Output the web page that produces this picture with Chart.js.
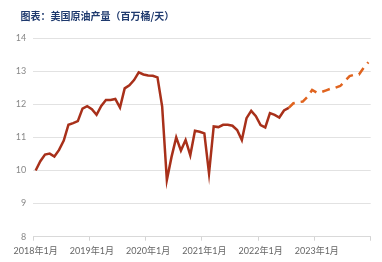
<!DOCTYPE html>
<html>
<head>
<meta charset="utf-8">
<script src="https://cdn.jsdelivr.net/npm/chart.js@4"></script>
<style>
html,body{margin:0;padding:0;background:#fff;}
canvas{display:block;}
</style>
</head>
<body>
<canvas id="c" width="382" height="262"></canvas>
<script>
const titleText = '图表：美国原油产量（百万桶/天）';
const years = [2018, 2019, 2020, 2021, 2022, 2023];
const monthNames = ['1月','2月','3月','4月','5月','6月','7月','8月','9月','10月','11月','12月'];
const yTicks = [8, 9, 10, 11, 12, 13, 14];

// Actual monthly production, 2018-01 .. 2022-07 (million barrels/day)
const actual2018 = [10.00, 10.28, 10.48, 10.51, 10.42, 10.62, 10.90, 11.38, 11.43, 11.49, 11.87, 11.94];
const actual2019 = [11.85, 11.68, 11.95, 12.13, 12.13, 12.16, 11.90, 12.48, 12.57, 12.73, 12.96, 12.90];
const actual2020 = [12.87, 12.86, 12.81, 11.93, 9.71, 10.41, 11.00, 10.60, 10.92, 10.46, 11.20, 11.17];
const actual2021 = [11.12, 9.91, 11.33, 11.31, 11.38, 11.38, 11.35, 11.22, 10.92, 11.58, 11.80, 11.64];
const actual2022 = [11.37, 11.30, 11.73, 11.68, 11.60, 11.81, 11.89];
// Forecast, 2022-07 (join point) .. 2023-12
const forecast = [11.89, 12.03, 12.06, 12.08, 12.22, 12.43, 12.35, 12.37, 12.42, 12.47, 12.50, 12.55, 12.70, 12.85, 12.89, 12.90, 13.10, 13.27];

const categories = [];
years.forEach(y => monthNames.forEach(m => categories.push(y + '年' + m)));

const actualAll = [].concat(actual2018, actual2019, actual2020, actual2021, actual2022);
const actualData = categories.map((_, i) => i < actualAll.length ? actualAll[i] : null);
const fStart = actualAll.length - 1;
const forecastData = categories.map((_, i) => (i >= fStart && i - fStart < forecast.length) ? forecast[i - fStart] : null);

const tickFont = {family: "Lato, 'Noto Sans CJK SC', sans-serif", size: 9};

const titlePlugin = {
  id: 'leftTitle',
  afterDraw(chart) {
    const ctx = chart.ctx;
    ctx.save();
    ctx.font = "bold 10px 'Noto Sans CJK SC', sans-serif";
    ctx.fillStyle = '#1F3A6E';
    ctx.textAlign = 'left';
    ctx.textBaseline = 'middle';
    ctx.fillText(titleText, 20.5, 16);
    ctx.restore();
  }
};

new Chart(document.getElementById('c'), {
  type: 'line',
  data: {
    labels: categories,
    datasets: [
      {data: actualData, borderColor: '#A8301A', borderWidth: 2.5, pointRadius: 0, tension: 0, spanGaps: false},
      {data: forecastData, borderColor: '#E0641F', borderWidth: 2.5, borderDash: [8, 6], pointRadius: 0, tension: 0, spanGaps: false}
    ]
  },
  plugins: [titlePlugin],
  options: {
    responsive: false,
    animation: false,
    layout: {padding: {left: 14, right: 11.3, top: 38, bottom: 0}},
    plugins: {
      legend: {display: false},
      tooltip: {enabled: false},
      title: {display: false}
    },
    scales: {
      x: {
        type: 'category',
        offset: true,
        afterFit: s => { s.height = 25.3; },
        grid: {
          offset: true,
          drawOnChartArea: false,
          tickLength: 4,
          color: ctx => (ctx.index === undefined || ctx.index % 12 === 0) ? '#d4d4d4' : 'rgba(0,0,0,0)'
        },
        border: {display: true, color: '#d9d9d9'},
        ticks: {
          autoSkip: false, maxRotation: 0, minRotation: 0, padding: 5,
          color: '#666', font: tickFont,
          callback: (v, i) => (i % 12 === 0) ? categories[i] : ''
        }
      },
      y: {
        min: yTicks[0], max: yTicks[yTicks.length - 1],
        afterBuildTicks: s => { s.ticks = yTicks.map(v => ({value: v})); },
        afterFit: s => { s.width = 19.3; },
        grid: {color: '#e2e2e2', drawTicks: false, lineWidth: 1},
        border: {display: false},
        ticks: {color: '#888', font: tickFont, padding: 7}
      }
    }
  }
});
</script>
</body>
</html>
